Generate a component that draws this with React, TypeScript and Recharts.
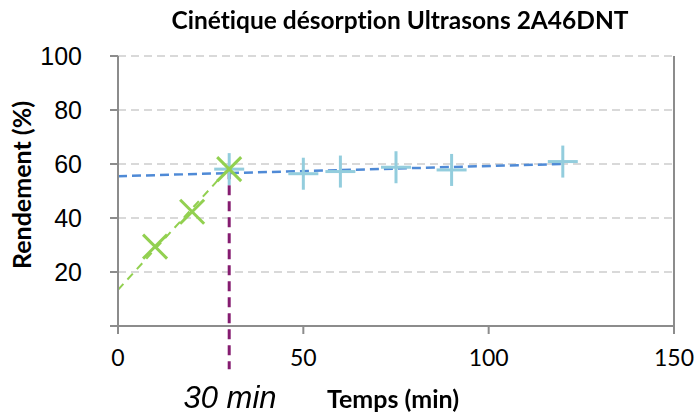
import {
  ScatterChart,
  Scatter,
  XAxis,
  YAxis,
  CartesianGrid,
  ReferenceLine,
} from "recharts";

/* ── Cinétique désorption ultrasons 2A46DNT ── */

const greenTimes = [10, 20, 30];
const greenYields = [29.4, 42.3, 58.1];

const blueTimes = [30, 50, 60, 75, 90, 120];
const blueYields = [58.1, 56.4, 57.2, 58.8, 57.8, 60.9];

const blueTrend = [
  { x: 0, y: 55.5 },
  { x: 120, y: 60 },
];
const greenTrend = [
  { x: 0, y: 13.4 },
  { x: 30, y: 58.6 },
];
const cutoff = [
  { x: 30, y: 58.1 },
  { x: 30, y: -16 },
];

const xTicks = [0, 50, 100, 150];
const yTicks = [0, 20, 40, 60, 80, 100];

const greenData = greenTimes.map((t, i) => ({ x: t, y: greenYields[i] }));
const blueData = blueTimes.map((t, i) => ({ x: t, y: blueYields[i] }));

const axisGray = "#8C8C8C";
const calibri = "Lato, 'Liberation Sans', sans-serif";

function Cross(props: any) {
  const { cx, cy } = props;
  const r = 12;
  return (
    <g stroke="#92D050" strokeWidth={3}>
      <line x1={cx - r} y1={cy - r} x2={cx + r} y2={cy + r} />
      <line x1={cx - r} y1={cy + r} x2={cx + r} y2={cy - r} />
    </g>
  );
}

function Plus(props: any) {
  const { cx, cy } = props;
  return (
    <g stroke="#93CDDD" strokeWidth={3}>
      <line x1={cx} y1={cy - 16} x2={cx} y2={cy + 16} />
      <line x1={cx - 15} y1={cy} x2={cx + 15} y2={cy} />
    </g>
  );
}

export default function App() {
  return (
    <div
      style={{
        position: "fixed",
        left: 0,
        top: 0,
        width: 698,
        height: 414,
        background: "#fff",
        fontVariantLigatures: "none",
      }}
    >
      <ScatterChart
        width={698}
        height={414}
        margin={{ top: 56, right: 0, bottom: 0, left: 0 }}
      >
        <CartesianGrid
          yAxisId="left"
          vertical={false}
          stroke="#D9D9D9"
          strokeWidth={2}
          strokeDasharray="8 5"
        />
        <XAxis
          type="number"
          dataKey="x"
          domain={[0, 150]}
          ticks={xTicks}
          height={88}
          stroke={axisGray}
          strokeWidth={2}
          tickSize={8}
          tickMargin={16}
          tick={{ fill: "#000", fontSize: 23, fontFamily: calibri }}
        />
        <YAxis
          yAxisId="left"
          type="number"
          dataKey="y"
          domain={[0, 100]}
          ticks={yTicks}
          width={118}
          stroke={axisGray}
          strokeWidth={2}
          tickSize={8}
          tickMargin={28}
          tickFormatter={(v: number) => (v === 0 ? "" : String(v))}
          tick={{ fill: "#000", fontSize: 25, fontFamily: "'Liberation Sans', Arial" }}
        />
        <YAxis
          yAxisId="right"
          orientation="right"
          type="number"
          domain={[0, 100]}
          ticks={yTicks}
          width={24}
          stroke={axisGray}
          strokeWidth={2}
          tickSize={8}
          tickFormatter={() => ""}
        />
        <Scatter
          yAxisId="left"
          data={blueData}
          shape={Plus}
          isAnimationActive={false}
        />
        <Scatter
          yAxisId="left"
          data={greenData}
          shape={Cross}
          isAnimationActive={false}
        />
        <ReferenceLine
          yAxisId="left"
          segment={greenTrend}
          stroke="#92D050"
          strokeWidth={2}
          strokeDasharray="8 6"
          ifOverflow="visible"
        />
        <ReferenceLine
          yAxisId="left"
          segment={blueTrend}
          stroke="#4F8AD6"
          strokeWidth={2.5}
          strokeDasharray="9 5"
          ifOverflow="visible"
        />
        <ReferenceLine
          yAxisId="left"
          segment={cutoff}
          stroke="#851C70"
          strokeWidth={3}
          strokeDasharray="10 6"
          ifOverflow="visible"
        />
      </ScatterChart>

      <div
        style={{
          position: "absolute",
          left: 0,
          width: 800,
          top: 4,
          textAlign: "center",
          fontFamily: calibri,
          fontWeight: 700,
          fontSize: 24.5,
          lineHeight: "32px",
        }}
      >
        Cinétique désorption Ultrasons 2A46DNT
      </div>
      <div
        style={{
          position: "absolute",
          left: 21 - 100,
          top: 185 - 16,
          width: 200,
          height: 32,
          lineHeight: "32px",
          textAlign: "center",
          transform: "rotate(-90deg)",
          fontFamily: calibri,
          fontWeight: 700,
          fontSize: 25,
        }}
      >
        Rendement (%)
      </div>
      <div
        style={{
          position: "absolute",
          left: 130,
          width: 200,
          top: 381,
          textAlign: "center",
          fontFamily: "'Liberation Sans', Arial",
          fontStyle: "italic",
          fontSize: 31,
          lineHeight: "34px",
        }}
      >
        30 min
      </div>
      <div
        style={{
          position: "absolute",
          left: 327,
          top: 382,
          fontFamily: calibri,
          fontWeight: 700,
          fontSize: 25,
          lineHeight: "32px",
          whiteSpace: "nowrap",
        }}
      >
        Temps (min)
      </div>
    </div>
  );
}
